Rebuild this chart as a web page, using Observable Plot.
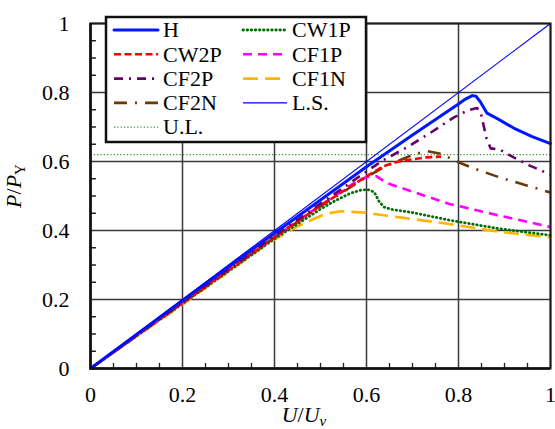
<!DOCTYPE html>
<html><head><meta charset="utf-8">
<script src="https://cdn.jsdelivr.net/npm/d3@7"></script>
<script src="https://cdn.jsdelivr.net/npm/@observablehq/plot@0.6"></script>
<style>body{margin:0;background:#fff}</style>
</head><body><div id="chart"></div><div id="note" style="font:1px 'Liberation Serif'"></div>
<script>
// ---- data (U/Uy, P/Py) ----
const majorTicks = [0, 0.2, 0.4, 0.6, 0.8, 1];
const minorTicks = [0.05,0.1,0.15,0.25,0.3,0.35,0.45,0.5,0.55,0.65,0.7,0.75,0.85,0.9,0.95];
const seriesNames = ["H","CW1P","CW2P","CF1P","CF2P","CF1N","CF2N","L.S.","U.L."];

const H = [[0,0],[0.2,0.197],[0.4,0.392],[0.6,0.585],[0.7,0.677],[0.8,0.767],[0.815,0.781],[0.83,0.791],[0.838,0.789],[0.848,0.772],[0.862,0.740],[0.875,0.731],[0.89,0.720],[0.92,0.697],[0.96,0.672],[1.0,0.652]];
const CW1P = [[0,0],[0.2,0.188],[0.4,0.376],[0.5,0.462],[0.53,0.485],[0.565,0.508],[0.59,0.518],[0.605,0.518],[0.617,0.511],[0.627,0.485],[0.638,0.468],[0.655,0.461],[0.7,0.452],[0.78,0.43],[0.89,0.405],[1.0,0.386]];
const CW2P = [[0,0],[0.2,0.19],[0.4,0.381],[0.5,0.472],[0.565,0.527],[0.6,0.557],[0.638,0.587],[0.67,0.600],[0.703,0.607],[0.73,0.612],[0.762,0.614]];
const CF1P = [[0,0],[0.2,0.19],[0.4,0.381],[0.5,0.473],[0.57,0.535],[0.6,0.555],[0.622,0.557],[0.645,0.537],[0.672,0.525],[0.78,0.477],[0.89,0.443],[1.0,0.41]];
const CF2P = [[0,0],[0.2,0.192],[0.4,0.384],[0.5,0.478],[0.6,0.571],[0.635,0.603],[0.688,0.641],[0.74,0.684],[0.79,0.728],[0.82,0.748],[0.84,0.755],[0.848,0.744],[0.855,0.702],[0.861,0.667],[0.87,0.638],[0.89,0.634],[0.92,0.612],[0.955,0.588],[1.0,0.562]];
const CF1N = [[0,0],[0.2,0.186],[0.39,0.366],[0.45,0.412],[0.486,0.434],[0.51,0.448],[0.543,0.456],[0.594,0.452],[0.645,0.443],[0.672,0.438],[0.78,0.419],[0.89,0.396],[1.0,0.38]];
const CF2N = [[0,0],[0.2,0.19],[0.4,0.38],[0.5,0.47],[0.6,0.555],[0.638,0.584],[0.703,0.621],[0.732,0.630],[0.762,0.622],[0.8,0.598],[0.833,0.580],[0.887,0.555],[0.95,0.53],[1.0,0.51]];
const LS = [[0,0],[1,1]];
const UL = [[0,0.62],[1,0.62]];

const seriesData = {"H":H,"CW1P":CW1P,"CW2P":CW2P,"CF1P":CF1P,"CF2P":CF2P,"CF1N":CF1N,"CF2N":CF2N,"L.S.":LS,"U.L.":UL};

// ---- styles ----
const FONT = "Liberation Serif";
const styles = {
  "H":    {stroke:"#0018ff", strokeWidth:3, dash:null, cap:"round"},
  "CW1P": {stroke:"#006e00", strokeWidth:2.8, dash:"0.5,3.6", cap:"round"},
  "CW2P": {stroke:"#ff0000", strokeWidth:2.6, dash:"7,3.5", cap:"butt"},
  "CF1P": {stroke:"#ff00ff", strokeWidth:2.6, dash:"9,6", cap:"butt"},
  "CF2P": {stroke:"#660066", strokeWidth:2.6, dash:"9,6,2,6", cap:"butt"},
  "CF1N": {stroke:"#ffb400", strokeWidth:2.6, dash:"15,7", cap:"butt"},
  "CF2N": {stroke:"#6b3a07", strokeWidth:2.6, dash:"13,8,2,8", cap:"butt"},
  "L.S.": {stroke:"#0000ff", strokeWidth:1.2, dash:null, cap:"butt"},
  "U.L.": {stroke:"#3a9a3a", strokeWidth:1.2, dash:"1.3,2", cap:"butt"}
};
const drawOrder = ["U.L.","CF1N","CW1P","CF1P","CF2N","CW2P","CF2P","H","L.S."];

const tickShape = {draw(ctx, l){ ctx.moveTo(0,0); ctx.lineTo(0,-l); }};
const fmt = d => String(+(+d).toFixed(1));

const lineMarks = drawOrder.map(name => {
  const s = styles[name];
  return Plot.line(seriesData[name], {
    x: d => d[0], y: d => d[1],
    stroke: s.stroke, strokeWidth: s.strokeWidth,
    strokeDasharray: s.dash, strokeLinecap: s.cap, strokeLinejoin: "round"
  });
});

const chart = Plot.plot({
  width: 555, height: 429,
  marginLeft: 90, marginRight: 5, marginTop: 23, marginBottom: 61,
  x: {domain: [0, 1]},
  y: {domain: [0, 1]},
  marks: [
    Plot.gridX(majorTicks, {stroke: "#3a3a3a", strokeOpacity: 1, strokeWidth: 1.5}),
    Plot.gridY(majorTicks, {stroke: "#3a3a3a", strokeOpacity: 1, strokeWidth: 1.5}),
    Plot.vector(minorTicks, {x: d => d, y: () => 0, rotate: 0, length: 5, anchor: "start", shape: tickShape, stroke: "#222", strokeWidth: 1.3}),
    Plot.vector(minorTicks, {x: () => 0, y: d => d, rotate: 90, length: 5, anchor: "start", shape: tickShape, stroke: "#222", strokeWidth: 1.3}),
    Plot.axisX(majorTicks, {tickSize: 0, tickPadding: 18, tickFormat: fmt, fontSize: 22, fontFamily: FONT, label: null}),
    Plot.axisY(majorTicks, {tickSize: 0, tickPadding: 21, tickFormat: fmt, fontSize: 22, fontFamily: FONT, label: null}),
    ...lineMarks,
    Plot.frame({stroke: "#1a1a1a", strokeWidth: 2}),
    Plot.ruleX([0], {stroke: "#111", strokeWidth: 2.5}),
    Plot.ruleY([0], {stroke: "#111", strokeWidth: 2.5})
  ]
});
document.getElementById("chart").appendChild(chart);

// ---- legend and axis titles ----
const svg = d3.select(chart);
const lg = svg.append("g");
lg.append("rect").attr("x", 106).attr("y", 17).attr("width", 260).attr("height", 125)
  .attr("fill", "white").attr("stroke", "#111").attr("stroke-width", 2.5);
seriesNames.forEach((name, i) => {
  const s = styles[name];
  const col = i % 2, row = Math.floor(i / 2);
  const x0 = col ? 243 : 114;
  const y = 30 + row * 24.3;
  lg.append("line").attr("x1", x0).attr("x2", x0 + 44).attr("y1", y).attr("y2", y)
    .attr("stroke", s.stroke).attr("stroke-width", s.strokeWidth)
    .attr("stroke-dasharray", s.dash).attr("stroke-linecap", s.cap);
  lg.append("text").attr("x", x0 + 49).attr("y", y).attr("dy", "0.33em")
    .attr("font-family", FONT).attr("text-anchor", "start").attr("font-size", 22).attr("fill", "black").text(name);
});

const yl = svg.append("text").attr("transform", "translate(21,186) rotate(-90)")
  .attr("font-family", FONT).attr("text-anchor", "middle").attr("font-size", 22).attr("fill", "black");
yl.append("tspan").attr("font-style", "italic").text("P");
yl.append("tspan").text("/");
yl.append("tspan").attr("font-style", "italic").text("P");
yl.append("tspan").attr("font-size", 15).attr("dy", 4).text("Y");

const xl = svg.append("text").attr("x", 304).attr("y", 422)
  .attr("font-family", FONT).attr("text-anchor", "middle").attr("font-size", 22).attr("fill", "black");
xl.append("tspan").attr("font-style", "italic").text("U");
xl.append("tspan").text("/");
xl.append("tspan").attr("font-style", "italic").text("U");
xl.append("tspan").attr("font-size", 15).attr("font-style", "italic").attr("dy", 4).text("v");
</script>
</body></html>
